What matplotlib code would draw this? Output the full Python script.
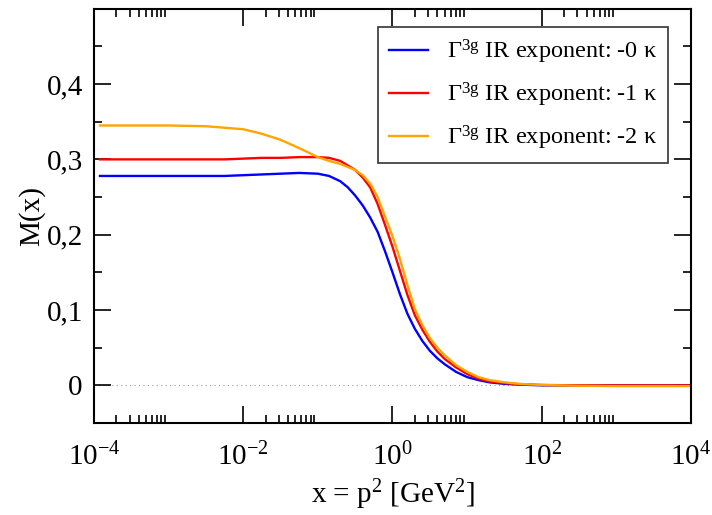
import numpy as np
import matplotlib
matplotlib.use("Agg")
import matplotlib.pyplot as plt
from matplotlib.ticker import FixedLocator, FuncFormatter

plt.rcParams['font.family'] = ['Liberation Serif', 'DejaVu Serif']
plt.rcParams['mathtext.fontset'] = 'custom'
plt.rcParams['mathtext.rm'] = 'Liberation Serif'
plt.rcParams['mathtext.it'] = 'Liberation Serif:italic'

# log10 of x = p^2 [GeV^2]
log_x = [-3.92, -3.0, -2.5, -2.25, -2.0, -1.75, -1.5, -1.25, -1.0, -0.85, -0.7, -0.6,
         -0.5, -0.4, -0.3, -0.2, -0.1, 0.0, 0.1, 0.2, 0.3, 0.4, 0.5, 0.6, 0.7, 0.85,
         1.0, 1.15, 1.3, 1.5, 1.7, 2.0, 2.5, 3.0, 4.0]
m_exp0 = [0.278, 0.278, 0.278, 0.278, 0.279, 0.280, 0.281, 0.282, 0.281, 0.278, 0.271, 0.263,
          0.252, 0.239, 0.223, 0.204, 0.178, 0.150, 0.121, 0.095, 0.075, 0.059, 0.046, 0.036,
          0.028, 0.018, 0.011, 0.007, 0.004, 0.002, 0.001, 0.0, 0.0, 0.0, 0.0]
m_exp1 = [0.300, 0.300, 0.300, 0.300, 0.301, 0.302, 0.302, 0.303, 0.303, 0.302, 0.298, 0.292,
          0.286, 0.276, 0.263, 0.241, 0.213, 0.184, 0.152, 0.120, 0.093, 0.074, 0.058, 0.045,
          0.035, 0.024, 0.015, 0.009, 0.005, 0.003, 0.0015, 0.0005, 0.0, 0.0, 0.0]
m_exp2 = [0.345, 0.345, 0.344, 0.342, 0.340, 0.334, 0.326, 0.315, 0.303, 0.298, 0.294, 0.290,
          0.286, 0.279, 0.268, 0.250, 0.224, 0.198, 0.168, 0.133, 0.101, 0.080, 0.063, 0.050,
          0.040, 0.027, 0.018, 0.011, 0.007, 0.004, 0.002, 0.0005, -0.0005, -0.001, -0.001]
labels = [r"$\Gamma^{\mathrm{3g}}$ IR exponent: -0 κ",
          r"$\Gamma^{\mathrm{3g}}$ IR exponent: -1 κ",
          r"$\Gamma^{\mathrm{3g}}$ IR exponent: -2 κ"]
colors = ["#0000ff", "#ff0000", "#ffa500"]

x = 10.0 ** np.array(log_x)

fig = plt.figure(figsize=(7.12, 5.15), dpi=100)
ax = fig.add_axes([0.132, 0.1786, 0.8385, 0.803])

ax.axhline(0, color="#999999", lw=0.8, ls=(0, (1, 3)), zorder=1)
for m, c, lab in zip([m_exp0, m_exp1, m_exp2], colors, labels):
    ax.plot(x, m, color=c, lw=1.7, label=lab, zorder=2)

ax.set_xscale("log")
ax.set_xlim(1e-4, 1e4)
ax.set_ylim(-0.05, 0.499)

ax.xaxis.set_major_locator(FixedLocator([1e-4, 1e-2, 1e0, 1e2, 1e4]))
ax.xaxis.set_minor_locator(FixedLocator([k * 10.0 ** e for e in (-4, -2, 0, 2) for k in range(2, 10)]))
ax.xaxis.set_major_formatter(FuncFormatter(lambda v, p: r"$10^{%d}$" % round(np.log10(v))))
ax.xaxis.set_minor_formatter(FuncFormatter(lambda v, p: ""))
ax.yaxis.set_major_locator(FixedLocator([0, 0.1, 0.2, 0.3, 0.4]))
ax.yaxis.set_minor_locator(FixedLocator([-0.05, 0.05, 0.15, 0.25, 0.35, 0.45]))
ax.yaxis.set_major_formatter(FuncFormatter(lambda v, p: "0" if v == 0 else ("%.1f" % v).replace(".", ",")))

ax.tick_params(which="both", direction="in", top=True, right=True, width=1.2, labelsize=21)
ax.tick_params(which="major", length=12)
ax.tick_params(which="minor", length=6)
ax.tick_params(axis="x", pad=14)
ax.tick_params(axis="y", pad=8)
for s in ax.spines.values():
    s.set_linewidth(1.5)

ax.set_xlabel(r"x = p$^2$ [GeV$^2$]", fontsize=21, labelpad=5)
ax.set_ylabel("M(x)", fontsize=21, labelpad=1)

leg = ax.legend(loc="upper left", bbox_to_anchor=(0.531, 0.9476), bbox_transform=fig.transFigure,
                borderaxespad=0, fontsize=17.5, handlelength=1.6, handletextpad=0.8,
                borderpad=0.45, labelspacing=0.6, fancybox=False, framealpha=1)
leg.get_frame().set_edgecolor("#333333")
leg.get_frame().set_linewidth(1.2)

fig.savefig("out.png", dpi=100)
